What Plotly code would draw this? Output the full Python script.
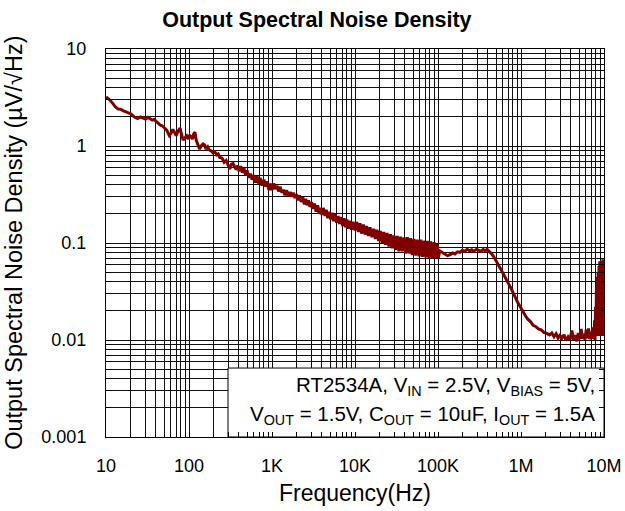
import plotly.graph_objects as go

# ---- data (frequency in Hz, noise density in uV/sqrt(Hz)) ----
freq_a = [10, 11, 12, 13, 14, 15, 16, 17, 18, 19, 20, 22, 24, 26, 28, 30, 32, 34, 36, 38, 40, 42, 44, 46, 48,
          50, 52, 54, 56, 58, 61, 64, 67, 70, 74, 78, 81, 85, 89, 94, 98]
noise_a = [3.20, 3.01, 2.77, 2.52, 2.40, 2.39, 2.32, 2.28, 2.24, 2.19, 2.14, 1.99, 1.92, 1.99, 1.94, 1.90, 1.98,
           1.92, 1.85, 1.88, 1.79, 1.71, 1.67, 1.63, 1.61, 1.55, 1.50, 1.46, 1.36, 1.28, 1.36, 1.48, 1.38, 1.28,
           1.43, 1.53, 1.33, 1.15, 1.21, 1.27, 1.18]

freq_b = [102, 106, 110, 114, 118, 122, 128, 134, 140, 148, 155, 160, 168, 175, 185, 195, 205, 215, 225, 235,
          250, 265, 280, 295, 310, 325, 340, 355, 370, 385, 400, 420, 440, 460, 480, 500, 525, 550, 575, 600,
          630, 660, 690, 720, 760, 800, 840, 880, 920, 960]
noise_b = [1.28, 1.24, 1.18, 1.33, 1.39, 1.15, 1.02, 0.93, 1.00, 1.05, 1.02, 0.93, 0.98, 0.91, 0.89, 0.85, 0.87,
           0.81, 0.83, 0.76, 0.75, 0.68, 0.71, 0.63, 0.58, 0.65, 0.66, 0.61, 0.57, 0.63, 0.55, 0.62, 0.53, 0.59,
           0.50, 0.56, 0.47, 0.52, 0.45, 0.50, 0.42, 0.49, 0.41, 0.47, 0.39, 0.45, 0.38, 0.43, 0.35, 0.41]

freq_c = [1000, 1050, 1100, 1150, 1200, 1250, 1320, 1380, 1430, 1500, 1570, 1650, 1720, 1800, 1890, 1960, 2050,
          2150, 2250, 2350, 2450, 2550, 2650, 2750, 2870, 3000, 3120, 3250, 3400, 3550, 3700, 3850, 4000, 4150,
          4350, 4500, 4700, 4900, 5100, 5300, 5500, 5750, 6000, 6250, 6500, 6800, 7100, 7400, 7700, 8000, 8350,
          8700, 9100, 9500]
noise_c = [0.35, 0.41, 0.36, 0.39, 0.34, 0.38, 0.33, 0.355, 0.31, 0.35, 0.305, 0.335, 0.30, 0.33, 0.29, 0.32,
           0.275, 0.31, 0.265, 0.295, 0.25, 0.285, 0.245, 0.275, 0.235, 0.265, 0.225, 0.255, 0.21, 0.245, 0.20,
           0.23, 0.195, 0.23, 0.19, 0.22, 0.18, 0.21, 0.175, 0.205, 0.168, 0.198, 0.162, 0.19, 0.157, 0.185,
           0.15, 0.18, 0.145, 0.175, 0.14, 0.17, 0.137, 0.165]

freq_d = [10000, 10500, 11000, 11500, 12000, 12600, 13200, 13800, 14500, 15200, 16000, 16800, 17600, 18400,
          19300, 20200, 21200, 22200, 23300, 24400, 25600, 26800, 28100, 29400, 30800, 32300, 33800, 35400,
          37100, 38900, 40700, 42700, 44700, 46800, 49000, 51400, 53800, 56400, 59100, 61900, 64800, 67900,
          71100, 74500, 78000, 81700, 85600, 89700, 94000, 98400]
noise_d = [0.135, 0.165, 0.13, 0.16, 0.125, 0.155, 0.122, 0.15, 0.118, 0.145, 0.115, 0.14, 0.11, 0.137, 0.105,
           0.133, 0.10, 0.13, 0.096, 0.127, 0.092, 0.123, 0.088, 0.12, 0.085, 0.118, 0.082, 0.116, 0.082, 0.114,
           0.078, 0.115, 0.078, 0.112, 0.075, 0.11, 0.074, 0.108, 0.073, 0.108, 0.072, 0.106, 0.071, 0.105,
           0.07, 0.104, 0.069, 0.102, 0.07, 0.098]

freq_e = [101e3, 105e3, 112e3, 120e3, 130e3, 140e3, 150e3, 160e3, 172e3, 184e3, 196e3, 210e3, 225e3, 240e3,
          255e3, 270e3, 290e3, 310e3, 330e3, 350e3, 370e3, 390e3, 410e3, 430e3, 450e3, 470e3]
noise_e = [0.07, 0.083, 0.08, 0.077, 0.074, 0.076, 0.079, 0.077, 0.081, 0.08, 0.084, 0.082, 0.086, 0.083, 0.085,
           0.082, 0.086, 0.084, 0.082, 0.086, 0.083, 0.086, 0.083, 0.08, 0.076, 0.072]

freq_f = [500e3, 530e3, 558e3, 590e3, 620e3, 650e3, 680e3, 720e3, 760e3, 810e3, 860e3, 920e3, 980e3, 1.05e6,
          1.12e6, 1.2e6, 1.3e6, 1.4e6, 1.5e6, 1.62e6, 1.75e6, 1.9e6, 2.05e6]
noise_f = [0.066, 0.061, 0.056, 0.051, 0.047, 0.044, 0.041, 0.037, 0.034, 0.030, 0.027, 0.024, 0.022, 0.0195,
           0.018, 0.0165, 0.0155, 0.0142, 0.0138, 0.0130, 0.0127, 0.0119, 0.0117]

freq_g = [2.2e6, 2.35e6, 2.5e6, 2.65e6, 2.8e6, 2.95e6, 3.1e6, 3.3e6, 3.5e6, 3.7e6, 3.9e6, 4.1e6, 4.3e6, 4.5e6,
          4.7e6, 4.9e6, 5.1e6, 5.3e6, 5.5e6, 5.7e6, 5.9e6, 6.1e6, 6.3e6, 6.5e6, 6.7e6, 6.9e6, 7.1e6, 7.3e6, 7.5e6]
noise_g = [0.0113, 0.0118, 0.0108, 0.0116, 0.0105, 0.0112, 0.0104, 0.0113, 0.0099, 0.0108, 0.0101, 0.0125,
           0.0100, 0.0112, 0.0097, 0.0118, 0.0102, 0.0130, 0.0103, 0.0116, 0.0101, 0.0128, 0.0104, 0.0132,
           0.0102, 0.0122, 0.0104, 0.0135, 0.0103]

freq_h = [7.6e6, 7.7e6, 7.8e6, 7.9e6, 8.0e6, 8.1e6, 8.2e6, 8.3e6, 8.4e6, 8.5e6, 8.6e6, 8.7e6, 8.8e6, 8.9e6,
          9.0e6, 9.1e6, 9.2e6, 9.3e6, 9.4e6, 9.5e6, 9.6e6, 9.7e6, 9.8e6, 9.9e6, 10.0e6]
noise_h = [0.011, 0.016, 0.010, 0.022, 0.011, 0.035, 0.011, 0.045, 0.011, 0.05, 0.012, 0.058, 0.011, 0.065,
           0.012, 0.06, 0.011, 0.065, 0.012, 0.055, 0.011, 0.068, 0.012, 0.06, 0.05]

x_tick_vals = [10, 100, 1e3, 1e4, 1e5, 1e6, 1e7]
x_tick_text = ["10", "100", "1K", "10K", "100K", "1M", "10M"]
y_tick_vals = [0.001, 0.01, 0.1, 1, 10]
y_tick_text = ["0.001", "0.01", "0.1", "1", "10"]

# extent of the condition-text box (lower right corner of the plot)
box_x = [295, 1e7]
box_y = [0.001, 0.00514]

freq = freq_a + freq_b + freq_c + freq_d + freq_e + freq_f + freq_g + freq_h
noise = noise_a + noise_b + noise_c + noise_d + noise_e + noise_f + noise_g + noise_h


def with_minors(majors, texts):
    vals, labels = [], []
    for i, m in enumerate(majors):
        vals.append(m)
        labels.append(texts[i])
        if i < len(majors) - 1:
            for k in range(2, 10):
                vals.append(m * k)
                labels.append("")
    return vals, labels


xv, xt = with_minors(x_tick_vals, x_tick_text)
yv, yt = with_minors(y_tick_vals, y_tick_text)

FONT = "Arial, Liberation Sans, sans-serif"

fig = go.Figure()
# white box behind the condition text (above gridlines, below axis ticks)
fig.add_trace(go.Scatter(x=[box_x[0], box_x[1], box_x[1], box_x[0], box_x[0]],
                         y=[box_y[0], box_y[0], box_y[1], box_y[1], box_y[0]],
                         mode="lines", fill="toself", fillcolor="white",
                         line=dict(color="black", width=1), hoverinfo="skip", showlegend=False))
fig.add_trace(go.Scatter(x=freq, y=noise, mode="lines",
                         line=dict(color="#800000", width=3), showlegend=False))

axis_common = dict(type="log", showline=True, linecolor="black", linewidth=1, mirror="ticks",
                   ticks="inside", ticklen=5, tickcolor="black", tickwidth=1, automargin=False,
                   showgrid=True, gridcolor="#111111", gridwidth=1, zeroline=False, layer="above traces",
                   tickfont=dict(family=FONT, size=18, color="black"))

fig.update_xaxes(range=[1, 7], tickmode="array", tickvals=xv, ticktext=xt,
                 ticklabelstandoff=12,
                 title=dict(text="Frequency(Hz)", font=dict(family=FONT, size=23, color="black"), standoff=10),
                 **axis_common)
fig.update_yaxes(range=[-3, 1], tickmode="array", tickvals=yv, ticktext=yt,
                 ticklabelstandoff=15, **axis_common)

fig.add_annotation(xref="paper", yref="paper", x=0.986, y=0.131, xanchor="right", yanchor="middle",
                   showarrow=False, font=dict(family=FONT, size=20.5, color="black"),
                   text="RT2534A, V<sub>IN</sub> = 2.5V, V<sub>BIAS</sub> = 5V,")
fig.add_annotation(xref="paper", yref="paper", x=0.986, y=0.057, xanchor="right", yanchor="middle",
                   showarrow=False, font=dict(family=FONT, size=20.5, color="black"),
                   text="V<sub>OUT</sub> = 1.5V, C<sub>OUT</sub> = 10uF, I<sub>OUT</sub> = 1.5A")

fig.add_annotation(xref="paper", yref="paper", x=-0.185, y=0.5, xanchor="center", yanchor="middle",
                   textangle=-90, showarrow=False, font=dict(family=FONT, size=23.5, color="black"),
                   text="Output Spectral Noise Density (µV/√Hz)")

fig.update_layout(
    width=625, height=511,
    margin=dict(l=106, r=21, t=49, b=74),
    paper_bgcolor="white", plot_bgcolor="white",
    title=dict(text="<b>Output Spectral Noise Density</b>", x=0.507, xref="container", xanchor="center",
               y=0.961, yref="container", yanchor="middle",
               font=dict(family=FONT, size=21.5, color="black")),
)

fig.write_html("out.html", config={"displayModeBar": False},
               post_script="document.body.style.margin='0px';")
